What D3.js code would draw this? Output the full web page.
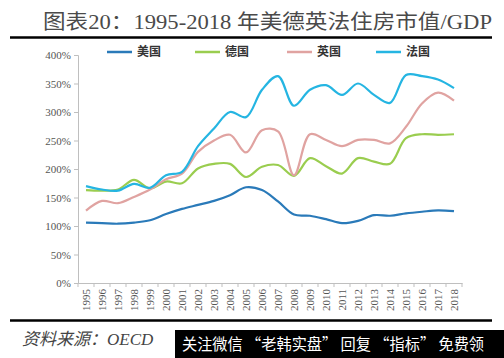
<!DOCTYPE html>
<html><head><meta charset="utf-8">
<script src="https://cdn.jsdelivr.net/npm/d3@7/dist/d3.min.js"></script>
<style>body{margin:0;background:#fff;}svg{display:block;}</style>
</head><body>
<script>
const years = d3.range(1995, 2019).map(String);
const seriesNames = ["美国", "德国", "英国", "法国"];
const usa = [106,105,104,106,110,121,130,137,144,154,168,163,143,120,118,112,105,109,119,118,122,125,127.5,126];
const germany = [163,162,164,181,166,178,175,201,209,209,186,204,207,188,219,205,192,219,213,209,254,261,260,261];
const uk = [127,144,140,151,164,182,192,230,250,260,229,268,266,189,261,251,240,251,251,245,274,315,334,320];
const france = [170,164,162,174,167,189,195,240,271,300,291,339,363,311,339,347,330,350,330,316,365,363,357,342];
const yTicks = [0,50,100,150,200,250,300,350,400];
const colors = ["#2a7ab9", "#9acd4f", "#e0a3a1", "#25b5e2"];
const seriesData = [usa, germany, uk, france];

const W = 504, H = 358;
const svg = d3.select("body").append("svg").attr("width", W).attr("height", H);
svg.append("rect").attr("width", W).attr("height", H).attr("fill", "#fff");

const serif = "'Liberation Serif','Noto Sans CJK SC',serif";
svg.append("text").attr("x", 43).attr("y", 29)
  .attr("font-family", serif).attr("font-size", 20.5).attr("fill", "#4a4a4a")
  .attr("textLength", 449).attr("lengthAdjust", "spacingAndGlyphs")
  .text("图表20：1995-2018 年美德英法住房市值/GDP");
svg.append("line").attr("x1", 10).attr("x2", 492).attr("y1", 37.5).attr("y2", 37.5)
  .attr("stroke", "#000").attr("stroke-width", 2.5);

const x = d3.scaleBand().domain(years).range([78, 462]);
const y = d3.scaleLinear().domain([0, 400]).range([283, 55]);

// y axis
const yAxis = d3.axisLeft(y).tickValues(yTicks).tickFormat(d => d + "%").tickSize(4).tickPadding(3);
const gy = svg.append("g").attr("transform", "translate(78,0)").call(yAxis);
gy.select(".domain").attr("stroke", "#bfbfbf");
gy.selectAll(".tick line").attr("stroke", "#bfbfbf");
gy.selectAll("text").attr("font-family", serif).attr("font-size", 11).attr("fill", "#555");

// x axis
const xAxis = d3.axisBottom(x).tickSize(0).tickPadding(0);
const gx = svg.append("g").attr("transform", "translate(0,283)").call(xAxis);
gx.select(".domain").attr("stroke", "#bfbfbf");
gx.selectAll(".tick text").attr("font-family", serif).attr("font-size", 11).attr("fill", "#555")
  .attr("transform", "rotate(-90)").attr("text-anchor", "end").attr("dy", "0.35em").attr("x", -6).attr("y", 0);
// category boundary ticks
const bounds = years.map(d => x(d)).concat([x.range()[1]]);
svg.append("g").selectAll("line").data(bounds).join("line")
  .attr("x1", d => d).attr("x2", d => d).attr("y1", 283).attr("y2", 287)
  .attr("stroke", "#bfbfbf");

// lines
const line = d3.line()
  .x((d, i) => x(years[i]) + x.bandwidth() / 2)
  .y(d => y(d))
  .curve(d3.curveCatmullRom.alpha(0.5));
svg.append("g").selectAll("path").data(seriesData).join("path")
  .attr("d", d => line(d)).attr("fill", "none")
  .attr("stroke", (d, i) => colors[i]).attr("stroke-width", 2.2);

// legend
const legendX = [107, 195, 287, 376];
const lg = svg.append("g");
seriesNames.forEach((n, i) => {
  lg.append("line").attr("x1", legendX[i]).attr("x2", legendX[i] + 25)
    .attr("y1", 52).attr("y2", 52).attr("stroke", colors[i]).attr("stroke-width", 2.5);
  lg.append("text").attr("x", legendX[i] + 30).attr("y", 56)
    .attr("font-family", serif).attr("font-size", 12).attr("font-weight", "bold").attr("fill", "#333")
    .text(n);
});

svg.append("line").attr("x1", 10).attr("x2", 492).attr("y1", 320.5).attr("y2", 320.5)
  .attr("stroke", "#000").attr("stroke-width", 2.5);
svg.append("text").attr("x", 22).attr("y", 345)
  .attr("font-family", serif).attr("font-size", 17).attr("font-style", "italic").attr("fill", "#444")
  .text("资料来源：OECD");
svg.append("rect").attr("x", 175).attr("y", 330).attr("width", 329).attr("height", 28).attr("fill", "#000");
svg.append("text").attr("x", 182).attr("y", 350)
  .attr("font-family", "'Noto Sans CJK SC',sans-serif").attr("font-size", 16).attr("fill", "#fff")
  .attr("textLength", 302).attr("lengthAdjust", "spacingAndGlyphs")
  .text("关注微信 “老韩实盘” 回复 “指标” 免费领");
</script>
</body></html>
